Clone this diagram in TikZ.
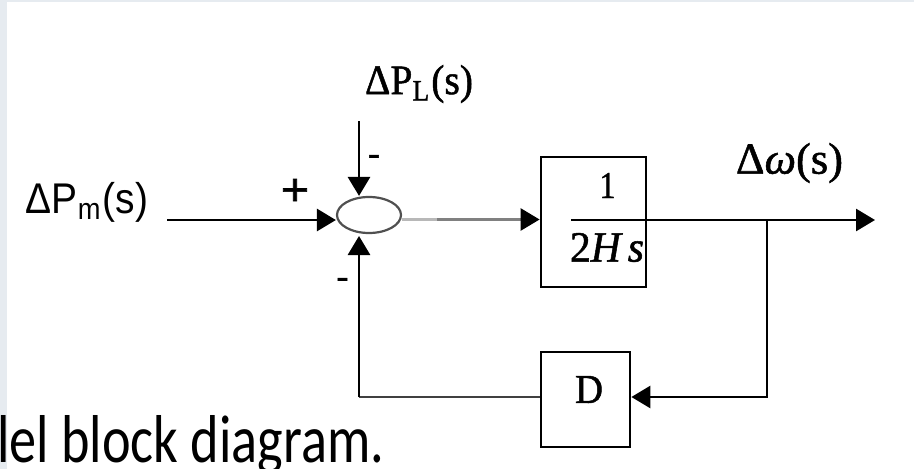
\documentclass[tikz,border=0pt]{standalone}
\usepackage{fontspec}
\setmainfont{Liberation Serif}
\setsansfont{Liberation Sans}
\newfontfamily\capfont{Carlito}
\newfontfamily\lblserif{Liberation Serif}[FakeBold=1.2]
\newfontfamily\plusfont{Liberation Sans}[FakeBold=1.5]
\usepackage{graphicx}
\usetikzlibrary{arrows.meta,shapes.geometric}
\definecolor{stripgray}{HTML}{E6EBF0}
\definecolor{sumgray}{HTML}{505050}
\definecolor{lightg}{HTML}{B8B8B8}
\definecolor{midg}{HTML}{808080}
\definecolor{darkg}{HTML}{404040}
\tikzset{
  wire/.style={line width=2.8pt, line cap=butt},
  tipw/.style={-{Triangle[length=19pt,width=22pt,color=black]}},
  blockbox/.style={draw=black, line width=2.8pt, inner sep=0, fill=white},
  lbl/.style={inner sep=0, outer sep=0, font=\lblserif},
}
\begin{document}
\begin{tikzpicture}[x=1pt,y=-1pt]
\useasboundingbox (0,0) rectangle (914,469);
\fill[white] (0,0) rectangle (914,469);
\fill[stripgray] (0,0) rectangle (7,469);
\fill[stripgray] (0,0) rectangle (914,2);

% blocks
\node[draw=sumgray, line width=2.2pt, ellipse, minimum width=64pt, minimum height=36pt, inner sep=0] (sum) at (369,215) {};
\node[blockbox, minimum width=105pt, minimum height=130pt] (blk) at (593.5,222) {};
\node[blockbox, minimum width=89pt, minimum height=95pt] (dblk) at (585.5,399.5) {};

% coordinates
\coordinate (in) at (167,220);
\coordinate (top) at (359,121);
\coordinate (frac) at (571,220);
\coordinate (out) at (875,220);
\coordinate (br) at (767,220);
\coordinate (fb) at (767,397);
\coordinate (fl) at (359,397);
\coordinate (mid) at (437,219.5);
\coordinate (sumtip) at (359,236);

% connectors
\draw[wire, tipw] (in) -- (in -| sum.west);
\draw[wire, tipw] (top) -- (top |- sum.north);
\draw[wire, lightg, line width=2.4pt] (sum.east |- mid) -- (mid);
\draw[wire, midg, tipw] (mid) -- (mid -| blk.west);
\draw[wire] (frac) -- (br);
\draw[wire, tipw] (br) -- (out);
\draw[wire, tipw] (br) -- (fb) -- (fb -| dblk.east);
\draw[wire, darkg] (fl -| dblk.west) -- (fl);
\draw[wire, tipw] (fl) -- (sumtip);

% labels
\node[lbl] (lpm) at (87,202) {\resizebox*{122pt}{40pt}{\sffamily ΔP\textsubscript{m}(s)}};
\node[lbl] (plus) at (295,192) {\resizebox*{28pt}{26pt}{\plusfont +}};
\node[lbl] (lpl) at (419,84) {\resizebox*{108pt}{38pt}{ΔP\textsubscript{L}(s)}};
\node[lbl] (m1) at (374,160) {\fontsize{36}{36}\selectfont -};
\node[lbl] (m2) at (342.5,283) {\fontsize{36}{36}\selectfont -};
\node[lbl] (one) at (607.5,185.5) {\resizebox*{16pt}{25pt}{1}};
\node[lbl] (den) at (607,247.5) {\resizebox*{74pt}{29pt}{2\textit{H\,s}}};
\node[lbl] (lw) at (789.5,163) {\resizebox*{107pt}{40pt}{Δ\textit{ω}(s)}};
\node[lbl] (dl) at (589,389.5) {\resizebox*{28pt}{27pt}{D}};

% caption
\node[inner sep=0, anchor=base west] (cap) at (-3,462) {\resizebox{387pt}{47pt}{\capfont lel block diagram.}};
\end{tikzpicture}
\end{document}
